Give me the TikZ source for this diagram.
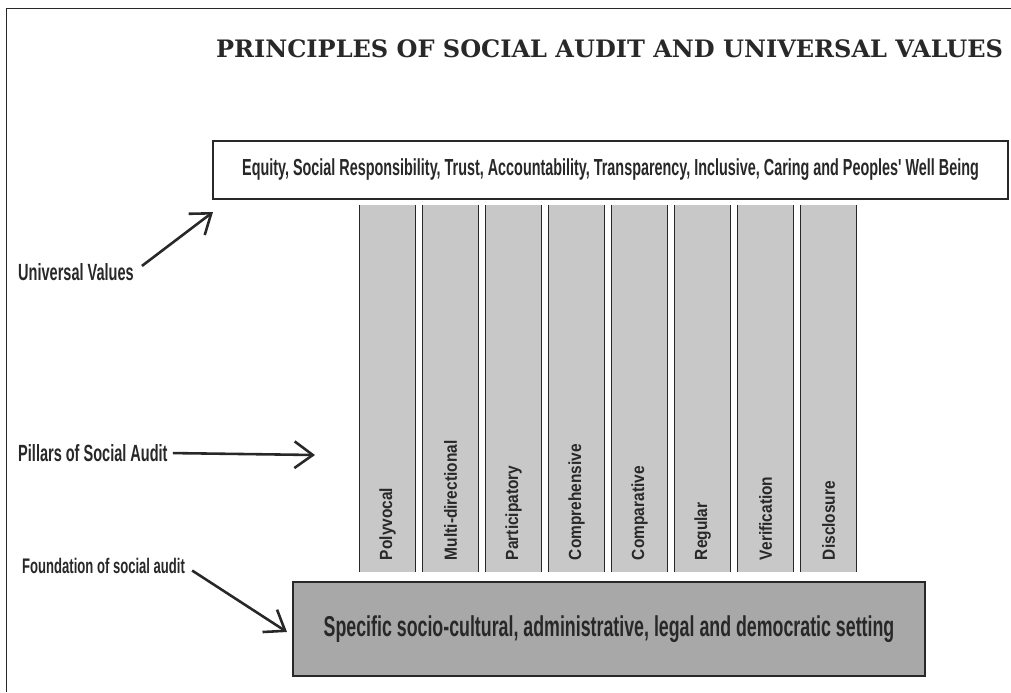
\documentclass[tikz,border=0pt]{standalone}
\usepackage{fontspec}
\usepackage{tikz}
\usetikzlibrary{arrows.meta,positioning}
\newfontfamily\titlefont{DejaVu Serif}
\newfontfamily\narrowfont[FakeStretch=0.62]{Liberation Sans}
\newfontfamily\pillarfont[FakeStretch=0.88]{Liberation Sans}
\definecolor{pillargray}{RGB}{200,200,200}
\definecolor{basegray}{RGB}{168,168,168}
\definecolor{inkgray}{RGB}{40,40,40}
\tikzstyle{valuebox} = [draw=inkgray, line width=1.2pt, fill=white,
    minimum width=23.85cm, minimum height=1.74cm, inner sep=0pt]
\tikzstyle{pillar} = [fill=pillargray, minimum width=1.65cm,
    minimum height=11.01cm, inner sep=0pt]
\tikzstyle{pillartext} = [rotate=90, anchor=west, inner sep=0pt, text=inkgray,
    font=\pillarfont\bfseries\fontsize{15}{17}\selectfont]
\tikzstyle{basebox} = [draw=inkgray, line width=2.4pt, fill=basegray,
    minimum width=18.96cm, minimum height=2.82cm]
\tikzstyle{sidelabel} = [anchor=west, inner sep=0pt, text=inkgray,
    font=\narrowfont\bfseries\fontsize{20}{22}\selectfont]
\tikzstyle{pointer} = [draw=inkgray, line width=2.2pt,
    -{Straight Barb[length=5.5mm,width=8mm]}]

\begin{document}
\begin{tikzpicture}[x=0.03cm, y=-0.03cm]
        \useasboundingbox (0,0) rectangle (1011,692);
        % what is left of the outer frame
        \draw [inkgray, line width=0.8pt] (1011,8) -- (6,8) -- (6,692);

        % title and the values resting on the pillars
        \node [anchor=base west, text=inkgray,
            font=\titlefont\bfseries\fontsize{20.5}{24}\selectfont]
            (title) at (212,57) {PRINCIPLES OF SOCIAL AUDIT AND UNIVERSAL VALUES};
        \node [valuebox] (values) at (610.5,170)
            {\narrowfont\bfseries\fontsize{19.8}{22}\selectfont\color{inkgray}Equity, Social Responsibility, Trust, Accountability, Transparency, Inclusive, Caring and Peoples' Well Being};

        % the eight pillars
        \foreach \name [count=\i] in {Polyvocal, Multi-directional, Participatory,
            Comprehensive, Comparative, Regular, Verification, Disclosure} {
            \node [pillar] (p\i) at ({387.5+63*(\i-1)},388.5) {};
            \draw [inkgray, line width=1pt] (p\i.north west) -- (p\i.south west)
                (p\i.north east) -- (p\i.south east);
            \node [pillartext] (t\i) at ([yshift=0.36cm]p\i.south) {\name};
        }

        % the foundation
        \node [basebox] (base) at (609,629)
            {\narrowfont\bfseries\fontsize{24.5}{27}\selectfont\color{inkgray}Specific socio-cultural, administrative, legal and democratic setting};

        % labels on the left
        \node [sidelabel] (uv) at (18,272) {Universal Values};
        \node [sidelabel] (pl) at (18,453) {Pillars of Social Audit};
        \node [sidelabel, font=\narrowfont\bfseries\fontsize{18}{20}\selectfont]
            (fd) at (22,566) {Foundation of social audit};
        \coordinate (uvtip) at (213,212);
        \coordinate (pltip) at (315,455);
        \coordinate (fdtip) at (287,632);

        \draw [pointer, shorten <=0.3cm] (uv.east) -- (uvtip);
        \draw [pointer, shorten <=0.15cm] (pl.east) -- (pltip);
        \draw [pointer, shorten <=0.25cm] (fd.east) -- (fdtip);
\end{tikzpicture}
\end{document}
